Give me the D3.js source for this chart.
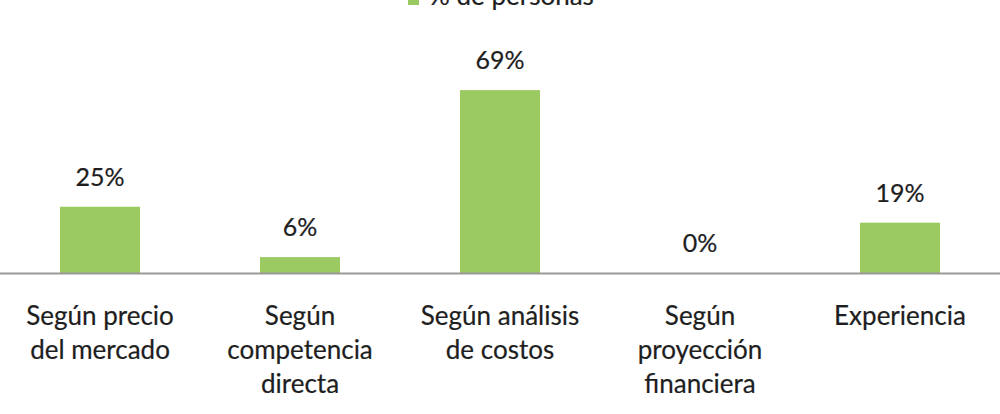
<!DOCTYPE html>
<html lang="es">
<head>
<meta charset="utf-8" />
<title>% de personas</title>
<script src="https://d3js.org/d3.v7.min.js"></script>
<style>
  body { margin: 0; background: #fff; }
  text { font-family: Lato, "Open Sans", sans-serif; fill: #1e1e1e; stroke: #1e1e1e; stroke-width: 0.2px; }
</style>
</head>
<body>
<div id="chart"></div>
<script>
// data
var categories = [
  ["Según precio", "del mercado"],
  ["Según", "competencia", "directa"],
  ["Según análisis", "de costos"],
  ["Según", "proyección", "financiera"],
  ["Experiencia"]
];
var values = [0.25, 0.06, 0.69, 0.00, 0.19];
var valueLabels = ["25%", "6%", "69%", "0%", "19%"];
var seriesName = "% de personas";

var width = 1000, height = 414;
var baseline = 273;

var svg = d3.select("#chart").append("svg")
  .attr("width", width)
  .attr("height", height);

var x = d3.scaleBand()
  .domain(d3.range(categories.length))
  .range([0, width])
  .paddingInner(0.6)
  .paddingOuter(0.3);

var y = d3.scaleLinear().domain([0, 1]).range([baseline, baseline - 265]);

// bars
svg.selectAll("rect.bar")
  .data(values)
  .enter().append("rect")
  .attr("class", "bar")
  .attr("x", function (d, i) { return x(i); })
  .attr("y", function (d) { return y(d); })
  .attr("width", x.bandwidth())
  .attr("height", function (d) { return baseline - y(d); })
  .attr("fill", "#9BC962");

// axis line
svg.append("line")
  .attr("x1", 0).attr("x2", width)
  .attr("y1", baseline + 0.5).attr("y2", baseline + 0.5)
  .attr("stroke", "#9a9a9a")
  .attr("stroke-width", 2);

// value labels
svg.selectAll("text.val")
  .data(values)
  .enter().append("text")
  .attr("class", "val")
  .attr("x", function (d, i) { return x(i) + x.bandwidth() / 2; })
  .attr("y", function (d) { return y(d) - 21; })
  .attr("text-anchor", "middle")
  .style("font-size", "25px")
  .text(function (d, i) { return valueLabels[i]; });

// category labels
var cat = svg.selectAll("text.cat")
  .data(categories)
  .enter().append("text")
  .attr("class", "cat")
  .attr("text-anchor", "middle")
  .style("font-size", "26px")
  .attr("transform", function (d, i) {
    return "translate(" + (x(i) + x.bandwidth() / 2) + "," + (baseline + 52) + ")";
  });
cat.selectAll("tspan")
  .data(function (d) { return d; })
  .enter().append("tspan")
  .attr("x", 0)
  .attr("y", function (d, j) { return j * 34; })
  .text(function (d) { return d; });

// legend (cut off at top, as in the source)
svg.append("rect")
  .attr("x", 408).attr("y", -6)
  .attr("width", 11).attr("height", 11)
  .attr("fill", "#9BC962");
svg.append("text")
  .attr("x", 429).attr("y", 5)
  .style("font-size", "26px")
  .text(seriesName);
</script>
</body>
</html>
